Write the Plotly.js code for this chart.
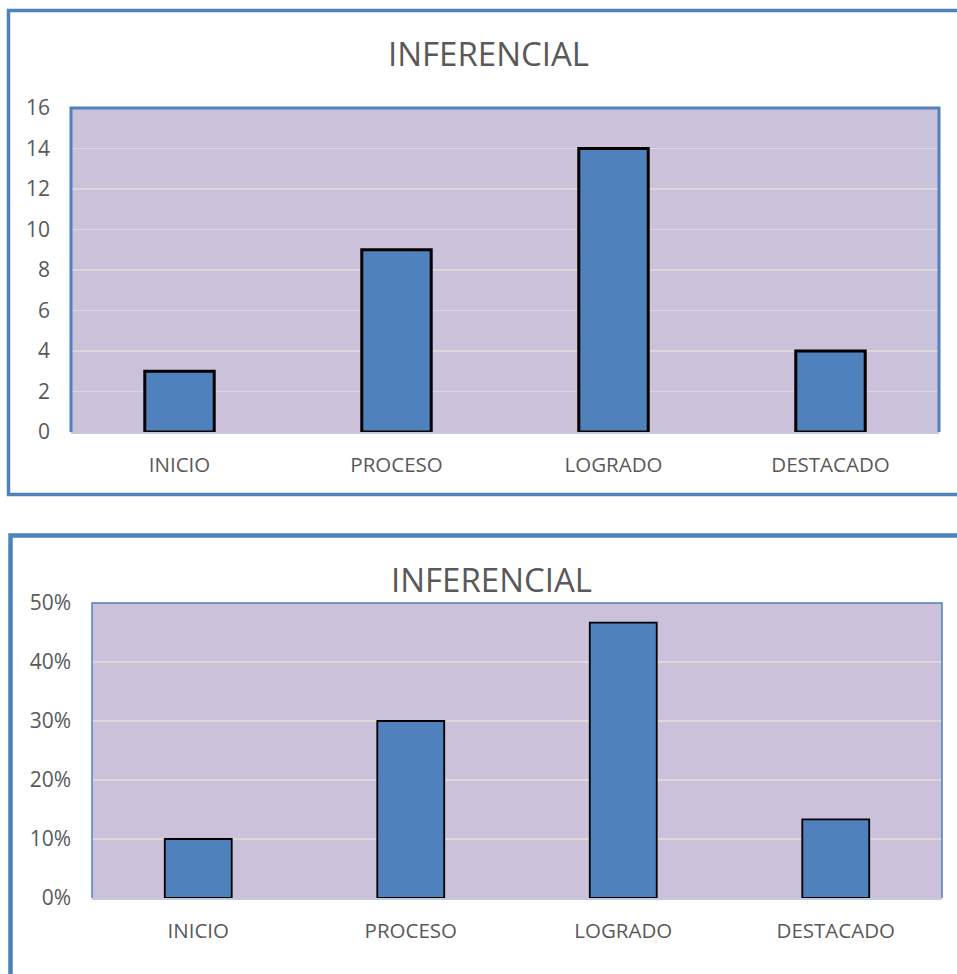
<!DOCTYPE html>
<html>
<head>
<meta charset="utf-8">
<script src="https://cdn.plot.ly/plotly-3.0.1.min.js"></script>
<style>html,body{margin:0;padding:0;background:#fff}#chart{width:957px;height:974px}</style>
</head>
<body>
<div id="chart"></div>
<script>
const categories = ["INICIO", "PROCESO", "LOGRADO", "DESTACADO"];
const counts = [3, 9, 14, 4];
const percents = [0.10, 0.30, 0.4667, 0.1333];
const chartTitle = "INFERENCIAL";
const countTicks = [0, 2, 4, 6, 8, 10, 12, 14, 16];
const percentTicks = [0, 0.1, 0.2, 0.3, 0.4, 0.5];
const percentTickLabels = ["0%", "10%", "20%", "30%", "40%", "50%"];

const W = 957, H = 974;
const px = v => v / W;
const py = v => 1 - v / H;

const BLUE = "#4F81BD";
const TXT = "#595959";
const GRID = "#d9d9d9";
const FONT = "Open Sans, sans-serif";

const traces = [
  {type: "bar", x: categories, y: counts, xaxis: "x", yaxis: "y", width: 0.32,
   marker: {color: BLUE, line: {color: "#000", width: 3}}, hoverinfo: "none"},
  {type: "bar", x: categories, y: percents, xaxis: "x2", yaxis: "y2", width: 0.315,
   marker: {color: BLUE, line: {color: "#000", width: 1.8}}, hoverinfo: "none"}
];

const xFont = {family: FONT, size: 20.5, color: TXT};
const yFont = {family: FONT, size: 21, color: TXT};

const layout = {
  width: W, height: H,
  margin: {l: 0, r: 0, t: 0, b: 0},
  paper_bgcolor: "#fff",
  plot_bgcolor: "#CCC1DA",
  showlegend: false,
  xaxis: {domain: [px(71), px(939)], anchor: "y", type: "category",
    showgrid: false, showline: true, linecolor: "#c3cbdb", linewidth: 2,
    ticks: "", tickfont: xFont, ticklabelstandoff: 13, fixedrange: true},
  yaxis: {domain: [py(432), py(108)], anchor: "x", range: [0, 16],
    tickvals: countTicks, ticktext: countTicks.map(String),
    showgrid: true, gridcolor: GRID, gridwidth: 1.5, zeroline: false,
    showline: false, ticks: "", tickfont: yFont, ticklabelstandoff: 20, fixedrange: true},
  xaxis2: {domain: [px(92), px(942)], anchor: "y2", type: "category",
    showgrid: false, showline: true, linecolor: "#c3cbdb", linewidth: 2,
    ticks: "", tickfont: xFont, ticklabelstandoff: 13, fixedrange: true},
  yaxis2: {domain: [py(898), py(603)], anchor: "x2", range: [0, 0.5],
    tickvals: percentTicks, ticktext: percentTickLabels,
    showgrid: true, gridcolor: GRID, gridwidth: 1.5, zeroline: false,
    showline: false, ticks: "", tickfont: yFont, ticklabelstandoff: 20, fixedrange: true},
  shapes: [
    {type: "rect", xref: "paper", yref: "paper", x0: px(8.5), x1: px(975), y0: py(494.5), y1: py(10.5),
     line: {color: BLUE, width: 3.5}, layer: "above"},
    {type: "rect", xref: "paper", yref: "paper", x0: px(10.5), x1: px(975), y0: py(990), y1: py(535.5),
     line: {color: BLUE, width: 4.5}, layer: "above"},
    {type: "path", xref: "x domain", yref: "y domain", path: "M 0 0 L 0 1 L 1 1 L 1 0",
     line: {color: BLUE, width: 3}, layer: "above"},
    {type: "path", xref: "x2 domain", yref: "y2 domain", path: "M 0 0 L 0 1 L 1 1 L 1 0",
     line: {color: BLUE, width: 1.5}, layer: "above"}
  ],
  annotations: [
    {text: chartTitle, xref: "paper", yref: "paper", x: px(488), y: py(54),
     xanchor: "center", yanchor: "middle", showarrow: false,
     font: {family: FONT, size: 33, color: TXT}},
    {text: chartTitle, xref: "paper", yref: "paper", x: px(491), y: py(579),
     xanchor: "center", yanchor: "middle", showarrow: false,
     font: {family: FONT, size: 33, color: TXT}}
  ]
};

Plotly.newPlot("chart", traces, layout, {displayModeBar: false, staticPlot: true});
</script>
</body>
</html>
